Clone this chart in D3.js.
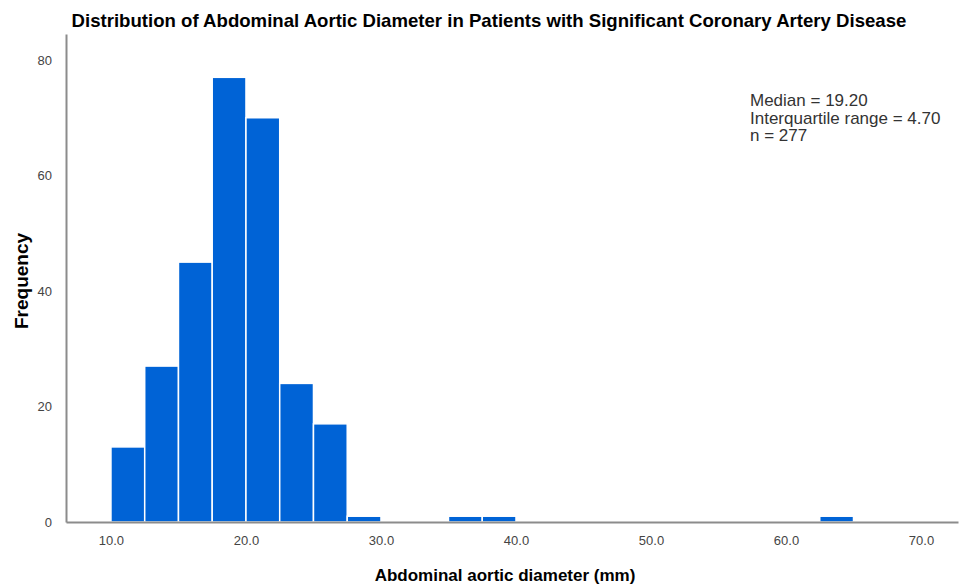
<html>
<head>
<style>
body { margin: 0; background: #fff; font-family: "Liberation Sans", Arial, sans-serif; }
.axis path { stroke: #8c8c8c; stroke-width: 2; }
.axis line { display: none; }
.axis text { font-size: 13px; fill: #444; font-family: "Liberation Sans", Arial, sans-serif; }
</style>
</head>
<body>
<div id="chart"></div>
<script src="https://d3js.org/d3.v7.min.js"></script>
<script>
// histogram bins (mm) and counts
var binStart = [10, 12.5, 15, 17.5, 20, 22.5, 25, 27.5, 35, 37.5, 62.5];
var binEnd   = [12.5, 15, 17.5, 20, 22.5, 25, 27.5, 30, 37.5, 40, 65];
var counts   = [13, 27, 45, 77, 70, 24, 17, 1, 1, 1, 1];
var xTicks = [10, 20, 30, 40, 50, 60, 70];
var yTicks = [0, 20, 40, 60, 80];
var stats = ["Median = 19.20", "Interquartile range = 4.70", "n = 277"];

var W = 959, H = 585;
var mLeft = 66, mRight = 958, mTop = 34, mBottom = 522;

var svg = d3.select("#chart").append("svg")
    .attr("width", W)
    .attr("height", H);

var x = d3.scaleLinear().domain([6.67, 72.74]).range([mLeft, mRight]);
var y = d3.scaleLinear().domain([0, 84.5]).range([mBottom, mTop]);

var bins = binStart.map(function(s, i) { return {x0: s, x1: binEnd[i], n: counts[i]}; });

svg.selectAll(".bar")
    .data(bins)
    .enter()
    .append("rect")
      .attr("class", "bar")
      .attr("x", function(d) { return x(d.x0); })
      .attr("width", function(d) { return x(d.x1) - x(d.x0); })
      .attr("y", function(d) { return y(d.n); })
      .attr("height", function(d) { return y(0) - y(d.n); })
      .style("fill", "#0063d6")
      .style("stroke", "#ffffff")
      .style("stroke-width", 1.5);

svg.append("g")
    .attr("class", "x axis")
    .attr("transform", "translate(0," + mBottom + ")")
    .call(d3.axisBottom(x).tickValues(xTicks).tickFormat(d3.format(".1f")).tickSizeOuter(0).tickPadding(8));

svg.append("g")
    .attr("class", "y axis")
    .attr("transform", "translate(" + mLeft + ",0)")
    .call(d3.axisLeft(y).tickValues(yTicks).tickSizeOuter(0).tickPadding(8));

svg.append("text")
    .attr("x", 489)
    .attr("y", 27)
    .style("text-anchor", "middle")
    .style("font-size", "18.6px")
    .style("font-weight", "bold")
    .text("Distribution of Abdominal Aortic Diameter in Patients with Significant Coronary Artery Disease");

svg.append("text")
    .attr("transform", "translate(28,281) rotate(-90)")
    .style("text-anchor", "middle")
    .style("font-size", "19px")
    .style("font-weight", "bold")
    .text("Frequency");

svg.append("text")
    .attr("x", 505)
    .attr("y", 581)
    .style("text-anchor", "middle")
    .style("font-size", "17px")
    .style("font-weight", "bold")
    .text("Abdominal aortic diameter (mm)");

svg.append("g").selectAll("text")
    .data(stats)
    .enter()
    .append("text")
      .attr("x", 750)
      .attr("y", function(d, i) { return 106 + i * 17.5; })
      .style("font-size", "17px")
      .style("fill", "#333")
      .text(function(d) { return d; });
</script>
</body>
</html>
